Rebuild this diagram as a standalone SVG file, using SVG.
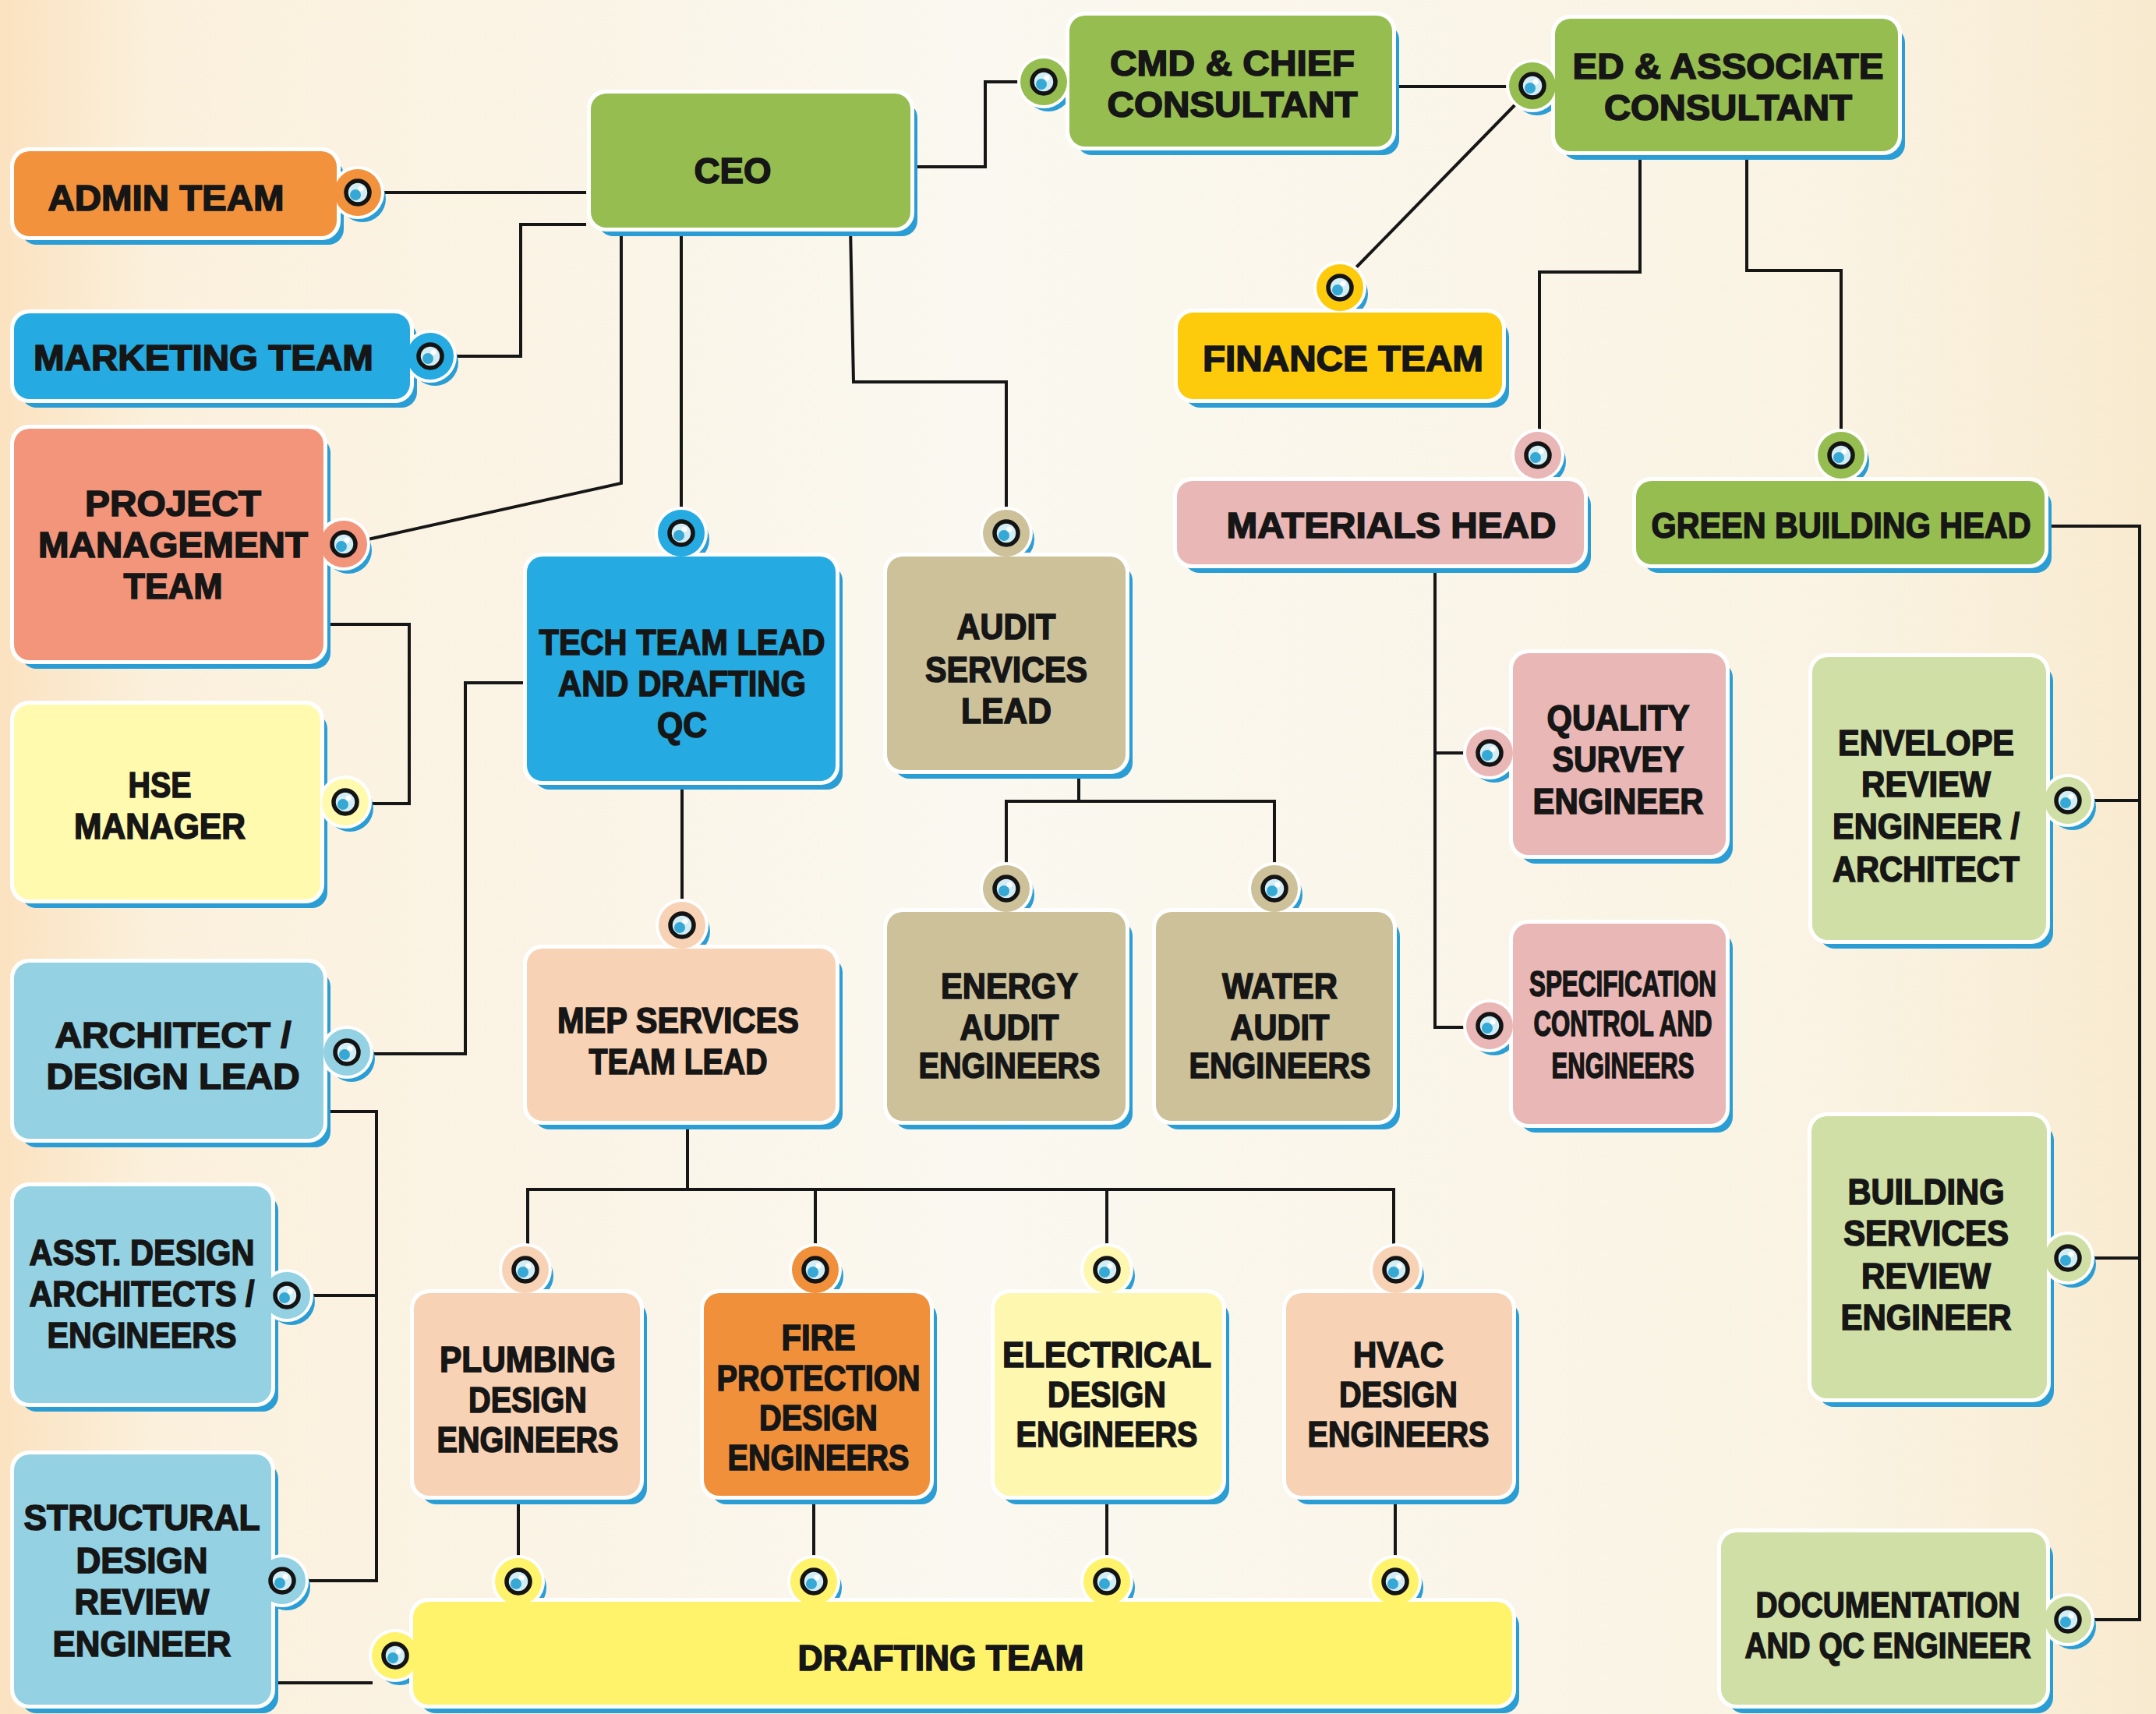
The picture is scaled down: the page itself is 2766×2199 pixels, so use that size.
<svg xmlns="http://www.w3.org/2000/svg" xmlns:xlink="http://www.w3.org/1999/xlink" width="2766" height="2199" viewBox="0 0 2766 2199">
<defs>
<linearGradient id="bg" x1="0" y1="0" x2="1" y2="0">
<stop offset="0" stop-color="#FBE2C0"/>
<stop offset="0.07" stop-color="#FBF0DC"/>
<stop offset="0.45" stop-color="#FAF8F0"/>
<stop offset="0.85" stop-color="#FAF3E3"/>
<stop offset="1" stop-color="#F8EACF"/>
</linearGradient>
<style>
.t{font-family:"Liberation Sans",Arial,sans-serif;font-weight:bold;font-size:46px;fill:#161616;stroke:#161616;stroke-width:1.6px;text-anchor:middle}
.c{stroke:#161616;stroke-width:4;fill:none}
.sh{fill:#2A9DD5}
.gl{fill:#FFFFFF}
.green{fill:#96BD50}.orange{fill:#F2923C}.blue{fill:#25AAE1}.salmon{fill:#F2957A}
.lyel{fill:#FFFAAE}.lblue{fill:#93D1E3}.gold{fill:#FDCB0C}.pink{fill:#E9B7B5}
.tan{fill:#CDC19A}.peach{fill:#F8D2B4}.lgreen{fill:#D0DFA5}.fire{fill:#F0903B}
.elec{fill:#FEF7B0}.draft{fill:#FFF36C}
</style>
<g id="ki">
<circle r="15" fill="#D3EDF5" stroke="#141414" stroke-width="5.5"/>
<circle cx="-3" cy="3" r="7" fill="#35A8D5"/>
<circle cx="4" cy="-5" r="3.5" fill="#FFFFFF"/>
</g>
</defs>
<rect x="0" y="0" width="2766" height="2199" fill="url(#bg)"/>

<g id="connectors" class="c">
<path d="M490,247 H752"/>
<path d="M582,457 H668 V288 H752"/>
<path d="M472,692 L797,620 V292"/>
<path d="M874,292 V654"/>
<path d="M1091,292 L1095,490 H1291 V654"/>
<path d="M1168,214 H1264 V105 H1309"/>
<path d="M1786,111 H1936"/>
<path d="M1950,128 L1738,345"/>
<path d="M2104,194 V349 H1975 V554"/>
<path d="M2241,194 V347 H2362 V554"/>
<path d="M2623,675 H2745 V2078 H2683"/>
<path d="M2745,1027 H2683"/>
<path d="M2745,1614 H2683"/>
<path d="M1841,724 V1318 H1881"/>
<path d="M1841,966 H1881"/>
<path d="M415,801 H525 V1031 H473"/>
<path d="M475,1352 H597 V876 H676"/>
<path d="M415,1426 H483 V2028 H392"/>
<path d="M398,1662 H483"/>
<path d="M348,2159 H478"/>
<path d="M875,1002 V1157"/>
<path d="M1384,988 V1028"/>
<path d="M1291,1110 V1028 H1635 V1110"/>
<path d="M882,1438 V1526"/>
<path d="M677,1599 V1526 H1788 V1599"/>
<path d="M1046,1526 V1599"/>
<path d="M1420,1526 V1599"/>
<path d="M665,1919 V1999"/>
<path d="M1044,1919 V1999"/>
<path d="M1420,1919 V1999"/>
<path d="M1790,1919 V1999"/>
</g>

<g id="admin-team">
<rect class="sh" x="27" y="205" width="414" height="109" rx="20"/>
<circle class="sh" cx="465" cy="255" r="30"/>
<rect class="gl" x="13" y="189" width="424" height="119" rx="24"/>
<circle class="gl" cx="459" cy="247" r="34"/>
<rect class="orange" x="18" y="194" width="414" height="109" rx="20"/>
<circle class="orange" cx="459" cy="247" r="30"/>
<use href="#ki" x="459" y="247"/>
<text class="t" x="213" y="270" textLength="303" lengthAdjust="spacingAndGlyphs">ADMIN TEAM</text>
</g>

<g id="marketing-team">
<rect class="sh" x="27" y="413" width="508" height="110" rx="20"/>
<circle class="sh" cx="558" cy="465" r="30"/>
<rect class="gl" x="13" y="397" width="518" height="120" rx="24"/>
<circle class="gl" cx="552" cy="457" r="34"/>
<rect class="blue" x="18" y="402" width="508" height="110" rx="20"/>
<circle class="blue" cx="552" cy="457" r="30"/>
<use href="#ki" x="552" y="457"/>
<text class="t" x="261" y="475" textLength="436" lengthAdjust="spacingAndGlyphs">MARKETING TEAM</text>
</g>

<g id="project-management-team">
<rect class="sh" x="27" y="561" width="397" height="297" rx="20"/>
<circle class="sh" cx="447" cy="706" r="30"/>
<rect class="gl" x="13" y="545" width="407" height="307" rx="24"/>
<circle class="gl" cx="441" cy="698" r="34"/>
<rect class="salmon" x="18" y="550" width="397" height="297" rx="20"/>
<circle class="salmon" cx="441" cy="698" r="30"/>
<use href="#ki" x="441" y="698"/>
<text class="t" x="222" y="662" textLength="226" lengthAdjust="spacingAndGlyphs">PROJECT</text>
<text class="t" x="222" y="715" textLength="346" lengthAdjust="spacingAndGlyphs">MANAGEMENT</text>
<text class="t" x="222" y="768" textLength="127" lengthAdjust="spacingAndGlyphs">TEAM</text>
</g>

<g id="hse-manager">
<rect class="sh" x="27" y="915" width="393" height="250" rx="20"/>
<circle class="sh" cx="449" cy="1037" r="30"/>
<rect class="gl" x="13" y="899" width="403" height="260" rx="24"/>
<circle class="gl" cx="443" cy="1029" r="34"/>
<rect class="lyel" x="18" y="904" width="393" height="250" rx="20"/>
<circle class="lyel" cx="443" cy="1029" r="30"/>
<use href="#ki" x="443" y="1029"/>
<text class="t" x="205" y="1023" textLength="81" lengthAdjust="spacingAndGlyphs">HSE</text>
<text class="t" x="205" y="1076" textLength="220" lengthAdjust="spacingAndGlyphs">MANAGER</text>
</g>

<g id="architect-design-lead">
<rect class="sh" x="27" y="1246" width="397" height="226" rx="20"/>
<circle class="sh" cx="451" cy="1358" r="30"/>
<rect class="gl" x="13" y="1230" width="407" height="236" rx="24"/>
<circle class="gl" cx="445" cy="1350" r="34"/>
<rect class="lblue" x="18" y="1235" width="397" height="226" rx="20"/>
<circle class="lblue" cx="445" cy="1350" r="30"/>
<use href="#ki" x="445" y="1350"/>
<text class="t" x="222" y="1344" textLength="303" lengthAdjust="spacingAndGlyphs">ARCHITECT /</text>
<text class="t" x="222" y="1397" textLength="325" lengthAdjust="spacingAndGlyphs">DESIGN LEAD</text>
</g>

<g id="asst-design-architects">
<rect class="sh" x="27" y="1533" width="330" height="278" rx="20"/>
<circle class="sh" cx="374" cy="1670" r="30"/>
<rect class="gl" x="13" y="1517" width="340" height="288" rx="24"/>
<circle class="gl" cx="368" cy="1662" r="34"/>
<rect class="lblue" x="18" y="1522" width="330" height="278" rx="20"/>
<circle class="lblue" cx="368" cy="1662" r="30"/>
<use href="#ki" x="368" y="1662"/>
<text class="t" x="182" y="1623" textLength="289" lengthAdjust="spacingAndGlyphs">ASST. DESIGN</text>
<text class="t" x="182" y="1676" textLength="289" lengthAdjust="spacingAndGlyphs">ARCHITECTS /</text>
<text class="t" x="182" y="1729" textLength="243" lengthAdjust="spacingAndGlyphs">ENGINEERS</text>
</g>

<g id="structural-design-review-engineer">
<rect class="sh" x="27" y="1877" width="330" height="321" rx="20"/>
<circle class="sh" cx="368" cy="2036" r="30"/>
<rect class="gl" x="13" y="1861" width="340" height="331" rx="24"/>
<circle class="gl" cx="362" cy="2028" r="34"/>
<rect class="lblue" x="18" y="1866" width="330" height="321" rx="20"/>
<circle class="lblue" cx="362" cy="2028" r="30"/>
<use href="#ki" x="362" y="2028"/>
<text class="t" x="182" y="1963" textLength="303" lengthAdjust="spacingAndGlyphs">STRUCTURAL</text>
<text class="t" x="182" y="2018" textLength="169" lengthAdjust="spacingAndGlyphs">DESIGN</text>
<text class="t" x="182" y="2071" textLength="173" lengthAdjust="spacingAndGlyphs">REVIEW</text>
<text class="t" x="182" y="2125" textLength="229" lengthAdjust="spacingAndGlyphs">ENGINEER</text>
</g>

<g id="ceo">
<rect class="sh" x="767" y="131" width="410" height="172" rx="20"/>
<rect class="gl" x="753" y="115" width="420" height="182" rx="24"/>
<rect class="green" x="758" y="120" width="410" height="172" rx="20"/>
<text class="t" x="940" y="235" textLength="99" lengthAdjust="spacingAndGlyphs">CEO</text>
</g>

<g id="cmd-chief-consultant">
<rect class="sh" x="1381" y="31" width="414" height="168" rx="20"/>
<circle class="sh" cx="1345" cy="113" r="30"/>
<rect class="gl" x="1367" y="15" width="424" height="178" rx="24"/>
<circle class="gl" cx="1339" cy="105" r="34"/>
<rect class="green" x="1372" y="20" width="414" height="168" rx="20"/>
<circle class="green" cx="1339" cy="105" r="30"/>
<use href="#ki" x="1339" y="105"/>
<text class="t" x="1581" y="97" textLength="314" lengthAdjust="spacingAndGlyphs">CMD &amp; CHIEF</text>
<text class="t" x="1581" y="150" textLength="321" lengthAdjust="spacingAndGlyphs">CONSULTANT</text>
</g>

<g id="ed-associate-consultant">
<rect class="sh" x="2004" y="35" width="440" height="170" rx="20"/>
<circle class="sh" cx="1972" cy="118" r="30"/>
<rect class="gl" x="1990" y="19" width="450" height="180" rx="24"/>
<circle class="gl" cx="1966" cy="110" r="34"/>
<rect class="green" x="1995" y="24" width="440" height="170" rx="20"/>
<circle class="green" cx="1966" cy="110" r="30"/>
<use href="#ki" x="1966" y="110"/>
<text class="t" x="2217" y="101" textLength="399" lengthAdjust="spacingAndGlyphs">ED &amp; ASSOCIATE</text>
<text class="t" x="2217" y="154" textLength="318" lengthAdjust="spacingAndGlyphs">CONSULTANT</text>
</g>

<g id="finance-team">
<rect class="sh" x="1520" y="412" width="416" height="111" rx="20"/>
<circle class="sh" cx="1725" cy="377" r="30"/>
<rect class="gl" x="1506" y="396" width="426" height="121" rx="24"/>
<circle class="gl" cx="1719" cy="369" r="34"/>
<rect class="gold" x="1511" y="401" width="416" height="111" rx="20"/>
<circle class="gold" cx="1719" cy="369" r="30"/>
<use href="#ki" x="1719" y="369"/>
<text class="t" x="1723" y="476" textLength="360" lengthAdjust="spacingAndGlyphs">FINANCE TEAM</text>
</g>

<g id="materials-head">
<rect class="sh" x="1519" y="628" width="522" height="107" rx="20"/>
<circle class="sh" cx="1979" cy="592" r="30"/>
<rect class="gl" x="1505" y="612" width="532" height="117" rx="24"/>
<circle class="gl" cx="1973" cy="584" r="34"/>
<rect class="pink" x="1510" y="617" width="522" height="107" rx="20"/>
<circle class="pink" cx="1973" cy="584" r="30"/>
<use href="#ki" x="1973" y="584"/>
<text class="t" x="1785" y="690" textLength="423" lengthAdjust="spacingAndGlyphs">MATERIALS HEAD</text>
</g>

<g id="green-building-head">
<rect class="sh" x="2108" y="628" width="524" height="107" rx="20"/>
<circle class="sh" cx="2368" cy="592" r="30"/>
<rect class="gl" x="2094" y="612" width="534" height="117" rx="24"/>
<circle class="gl" cx="2362" cy="584" r="34"/>
<rect class="green" x="2099" y="617" width="524" height="107" rx="20"/>
<circle class="green" cx="2362" cy="584" r="30"/>
<use href="#ki" x="2362" y="584"/>
<text class="t" x="2362" y="690" textLength="487" lengthAdjust="spacingAndGlyphs">GREEN BUILDING HEAD</text>
</g>

<g id="tech-team-lead">
<rect class="sh" x="685" y="725" width="396" height="288" rx="20"/>
<circle class="sh" cx="880" cy="692" r="30"/>
<rect class="gl" x="671" y="709" width="406" height="298" rx="24"/>
<circle class="gl" cx="874" cy="684" r="34"/>
<rect class="blue" x="676" y="714" width="396" height="288" rx="20"/>
<circle class="blue" cx="874" cy="684" r="30"/>
<use href="#ki" x="874" y="684"/>
<text class="t" x="875" y="840" textLength="367" lengthAdjust="spacingAndGlyphs">TECH TEAM LEAD</text>
<text class="t" x="875" y="893" textLength="318" lengthAdjust="spacingAndGlyphs">AND DRAFTING</text>
<text class="t" x="875" y="946" textLength="64" lengthAdjust="spacingAndGlyphs">QC</text>
</g>

<g id="audit-services-lead">
<rect class="sh" x="1147" y="725" width="306" height="274" rx="20"/>
<circle class="sh" cx="1297" cy="692" r="30"/>
<rect class="gl" x="1133" y="709" width="316" height="284" rx="24"/>
<circle class="gl" cx="1291" cy="684" r="34"/>
<rect class="tan" x="1138" y="714" width="306" height="274" rx="20"/>
<circle class="tan" cx="1291" cy="684" r="30"/>
<use href="#ki" x="1291" y="684"/>
<text class="t" x="1291" y="820" textLength="127" lengthAdjust="spacingAndGlyphs">AUDIT</text>
<text class="t" x="1291" y="875" textLength="208" lengthAdjust="spacingAndGlyphs">SERVICES</text>
<text class="t" x="1291" y="928" textLength="116" lengthAdjust="spacingAndGlyphs">LEAD</text>
</g>

<g id="mep-services-team-lead">
<rect class="sh" x="685" y="1228" width="396" height="221" rx="20"/>
<circle class="sh" cx="881" cy="1195" r="30"/>
<rect class="gl" x="671" y="1212" width="406" height="231" rx="24"/>
<circle class="gl" cx="875" cy="1187" r="34"/>
<rect class="peach" x="676" y="1217" width="396" height="221" rx="20"/>
<circle class="peach" cx="875" cy="1187" r="30"/>
<use href="#ki" x="875" y="1187"/>
<text class="t" x="870" y="1325" textLength="310" lengthAdjust="spacingAndGlyphs">MEP SERVICES</text>
<text class="t" x="870" y="1378" textLength="229" lengthAdjust="spacingAndGlyphs">TEAM LEAD</text>
</g>

<g id="energy-audit-engineers">
<rect class="sh" x="1147" y="1181" width="306" height="268" rx="20"/>
<circle class="sh" cx="1297" cy="1148" r="30"/>
<rect class="gl" x="1133" y="1165" width="316" height="278" rx="24"/>
<circle class="gl" cx="1291" cy="1140" r="34"/>
<rect class="tan" x="1138" y="1170" width="306" height="268" rx="20"/>
<circle class="tan" cx="1291" cy="1140" r="30"/>
<use href="#ki" x="1291" y="1140"/>
<text class="t" x="1295" y="1281" textLength="176" lengthAdjust="spacingAndGlyphs">ENERGY</text>
<text class="t" x="1295" y="1334" textLength="127" lengthAdjust="spacingAndGlyphs">AUDIT</text>
<text class="t" x="1295" y="1383" textLength="233" lengthAdjust="spacingAndGlyphs">ENGINEERS</text>
</g>

<g id="water-audit-engineers">
<rect class="sh" x="1492" y="1181" width="304" height="268" rx="20"/>
<circle class="sh" cx="1641" cy="1148" r="30"/>
<rect class="gl" x="1478" y="1165" width="314" height="278" rx="24"/>
<circle class="gl" cx="1635" cy="1140" r="34"/>
<rect class="tan" x="1483" y="1170" width="304" height="268" rx="20"/>
<circle class="tan" cx="1635" cy="1140" r="30"/>
<use href="#ki" x="1635" y="1140"/>
<text class="t" x="1642" y="1281" textLength="148" lengthAdjust="spacingAndGlyphs">WATER</text>
<text class="t" x="1642" y="1334" textLength="127" lengthAdjust="spacingAndGlyphs">AUDIT</text>
<text class="t" x="1642" y="1383" textLength="233" lengthAdjust="spacingAndGlyphs">ENGINEERS</text>
</g>

<g id="quality-survey-engineer">
<rect class="sh" x="1950" y="849" width="273" height="259" rx="20"/>
<circle class="sh" cx="1917" cy="974" r="30"/>
<rect class="gl" x="1936" y="833" width="283" height="269" rx="24"/>
<circle class="gl" cx="1911" cy="966" r="34"/>
<rect class="pink" x="1941" y="838" width="273" height="259" rx="20"/>
<circle class="pink" cx="1911" cy="966" r="30"/>
<use href="#ki" x="1911" y="966"/>
<text class="t" x="2076" y="937" textLength="183" lengthAdjust="spacingAndGlyphs">QUALITY</text>
<text class="t" x="2076" y="990" textLength="169" lengthAdjust="spacingAndGlyphs">SURVEY</text>
<text class="t" x="2076" y="1044" textLength="219" lengthAdjust="spacingAndGlyphs">ENGINEER</text>
</g>

<g id="specification-control-engineers">
<rect class="sh" x="1950" y="1196" width="273" height="257" rx="20"/>
<circle class="sh" cx="1917" cy="1324" r="30"/>
<rect class="gl" x="1936" y="1180" width="283" height="267" rx="24"/>
<circle class="gl" cx="1911" cy="1316" r="34"/>
<rect class="pink" x="1941" y="1185" width="273" height="257" rx="20"/>
<circle class="pink" cx="1911" cy="1316" r="30"/>
<use href="#ki" x="1911" y="1316"/>
<text class="t" x="2082" y="1278" textLength="240" lengthAdjust="spacingAndGlyphs">SPECIFICATION</text>
<text class="t" x="2082" y="1329" textLength="229" lengthAdjust="spacingAndGlyphs">CONTROL AND</text>
<text class="t" x="2082" y="1383" textLength="183" lengthAdjust="spacingAndGlyphs">ENGINEERS</text>
</g>

<g id="envelope-review-engineer">
<rect class="sh" x="2334" y="854" width="300" height="363" rx="20"/>
<circle class="sh" cx="2659" cy="1035" r="30"/>
<rect class="gl" x="2320" y="838" width="310" height="373" rx="24"/>
<circle class="gl" cx="2653" cy="1027" r="34"/>
<rect class="lgreen" x="2325" y="843" width="300" height="363" rx="20"/>
<circle class="lgreen" cx="2653" cy="1027" r="30"/>
<use href="#ki" x="2653" y="1027"/>
<text class="t" x="2471" y="969" textLength="226" lengthAdjust="spacingAndGlyphs">ENVELOPE</text>
<text class="t" x="2471" y="1022" textLength="166" lengthAdjust="spacingAndGlyphs">REVIEW</text>
<text class="t" x="2471" y="1076" textLength="240" lengthAdjust="spacingAndGlyphs">ENGINEER /</text>
<text class="t" x="2471" y="1131" textLength="240" lengthAdjust="spacingAndGlyphs">ARCHITECT</text>
</g>

<g id="building-services-review-engineer">
<rect class="sh" x="2333" y="1443" width="302" height="362" rx="20"/>
<circle class="sh" cx="2659" cy="1622" r="30"/>
<rect class="gl" x="2319" y="1427" width="312" height="372" rx="24"/>
<circle class="gl" cx="2653" cy="1614" r="34"/>
<rect class="lgreen" x="2324" y="1432" width="302" height="362" rx="20"/>
<circle class="lgreen" cx="2653" cy="1614" r="30"/>
<use href="#ki" x="2653" y="1614"/>
<text class="t" x="2471" y="1545" textLength="201" lengthAdjust="spacingAndGlyphs">BUILDING</text>
<text class="t" x="2471" y="1598" textLength="212" lengthAdjust="spacingAndGlyphs">SERVICES</text>
<text class="t" x="2471" y="1653" textLength="166" lengthAdjust="spacingAndGlyphs">REVIEW</text>
<text class="t" x="2471" y="1706" textLength="219" lengthAdjust="spacingAndGlyphs">ENGINEER</text>
</g>

<g id="documentation-qc-engineer">
<rect class="sh" x="2217" y="1977" width="417" height="221" rx="20"/>
<circle class="sh" cx="2659" cy="2086" r="30"/>
<rect class="gl" x="2203" y="1961" width="427" height="231" rx="24"/>
<circle class="gl" cx="2653" cy="2078" r="34"/>
<rect class="lgreen" x="2208" y="1966" width="417" height="221" rx="20"/>
<circle class="lgreen" cx="2653" cy="2078" r="30"/>
<use href="#ki" x="2653" y="2078"/>
<text class="t" x="2422" y="2075" textLength="339" lengthAdjust="spacingAndGlyphs">DOCUMENTATION</text>
<text class="t" x="2422" y="2127" textLength="367" lengthAdjust="spacingAndGlyphs">AND QC ENGINEER</text>
</g>

<g id="plumbing-design-engineers">
<rect class="sh" x="540" y="1670" width="290" height="260" rx="20"/>
<circle class="sh" cx="680" cy="1637" r="30"/>
<rect class="gl" x="526" y="1654" width="300" height="270" rx="24"/>
<circle class="gl" cx="674" cy="1629" r="34"/>
<rect class="peach" x="531" y="1659" width="290" height="260" rx="20"/>
<circle class="peach" cx="674" cy="1629" r="30"/>
<use href="#ki" x="674" y="1629"/>
<text class="t" x="677" y="1760" textLength="226" lengthAdjust="spacingAndGlyphs">PLUMBING</text>
<text class="t" x="677" y="1812" textLength="152" lengthAdjust="spacingAndGlyphs">DESIGN</text>
<text class="t" x="677" y="1863" textLength="233" lengthAdjust="spacingAndGlyphs">ENGINEERS</text>
</g>

<g id="fire-protection-design-engineers">
<rect class="sh" x="912" y="1670" width="290" height="260" rx="20"/>
<circle class="sh" cx="1052" cy="1637" r="30"/>
<rect class="gl" x="898" y="1654" width="300" height="270" rx="24"/>
<circle class="gl" cx="1046" cy="1629" r="34"/>
<rect class="fire" x="903" y="1659" width="290" height="260" rx="20"/>
<circle class="fire" cx="1046" cy="1629" r="30"/>
<use href="#ki" x="1046" y="1629"/>
<text class="t" x="1050" y="1732" textLength="95" lengthAdjust="spacingAndGlyphs">FIRE</text>
<text class="t" x="1050" y="1784" textLength="261" lengthAdjust="spacingAndGlyphs">PROTECTION</text>
<text class="t" x="1050" y="1835" textLength="152" lengthAdjust="spacingAndGlyphs">DESIGN</text>
<text class="t" x="1050" y="1886" textLength="233" lengthAdjust="spacingAndGlyphs">ENGINEERS</text>
</g>

<g id="electrical-design-engineers">
<rect class="sh" x="1285" y="1670" width="292" height="260" rx="20"/>
<circle class="sh" cx="1426" cy="1637" r="30"/>
<rect class="gl" x="1271" y="1654" width="302" height="270" rx="24"/>
<circle class="gl" cx="1420" cy="1629" r="34"/>
<rect class="elec" x="1276" y="1659" width="292" height="260" rx="20"/>
<circle class="elec" cx="1420" cy="1629" r="30"/>
<use href="#ki" x="1420" y="1629"/>
<text class="t" x="1420" y="1754" textLength="268" lengthAdjust="spacingAndGlyphs">ELECTRICAL</text>
<text class="t" x="1420" y="1805" textLength="152" lengthAdjust="spacingAndGlyphs">DESIGN</text>
<text class="t" x="1420" y="1856" textLength="233" lengthAdjust="spacingAndGlyphs">ENGINEERS</text>
</g>

<g id="hvac-design-engineers">
<rect class="sh" x="1659" y="1670" width="290" height="260" rx="20"/>
<circle class="sh" cx="1797" cy="1637" r="30"/>
<rect class="gl" x="1645" y="1654" width="300" height="270" rx="24"/>
<circle class="gl" cx="1791" cy="1629" r="34"/>
<rect class="peach" x="1650" y="1659" width="290" height="260" rx="20"/>
<circle class="peach" cx="1791" cy="1629" r="30"/>
<use href="#ki" x="1791" y="1629"/>
<text class="t" x="1794" y="1754" textLength="116" lengthAdjust="spacingAndGlyphs">HVAC</text>
<text class="t" x="1794" y="1805" textLength="152" lengthAdjust="spacingAndGlyphs">DESIGN</text>
<text class="t" x="1794" y="1856" textLength="233" lengthAdjust="spacingAndGlyphs">ENGINEERS</text>
</g>

<g id="drafting-team">
<rect class="sh" x="539" y="2066" width="1410" height="132" rx="20"/>
<circle class="sh" cx="513" cy="2132" r="30"/>
<circle class="sh" cx="671" cy="2037" r="30"/>
<circle class="sh" cx="1050" cy="2037" r="30"/>
<circle class="sh" cx="1426" cy="2037" r="30"/>
<circle class="sh" cx="1796" cy="2037" r="30"/>
<rect class="gl" x="525" y="2050" width="1420" height="142" rx="24"/>
<circle class="gl" cx="507" cy="2124" r="34"/>
<circle class="gl" cx="665" cy="2029" r="34"/>
<circle class="gl" cx="1044" cy="2029" r="34"/>
<circle class="gl" cx="1420" cy="2029" r="34"/>
<circle class="gl" cx="1790" cy="2029" r="34"/>
<rect class="draft" x="530" y="2055" width="1410" height="132" rx="20"/>
<circle class="draft" cx="507" cy="2124" r="30"/>
<circle class="draft" cx="665" cy="2029" r="30"/>
<circle class="draft" cx="1044" cy="2029" r="30"/>
<circle class="draft" cx="1420" cy="2029" r="30"/>
<circle class="draft" cx="1790" cy="2029" r="30"/>
<use href="#ki" x="507" y="2124"/>
<use href="#ki" x="665" y="2029"/>
<use href="#ki" x="1044" y="2029"/>
<use href="#ki" x="1420" y="2029"/>
<use href="#ki" x="1790" y="2029"/>
<text class="t" x="1207" y="2143" textLength="367" lengthAdjust="spacingAndGlyphs">DRAFTING TEAM</text>
</g>
</svg>
